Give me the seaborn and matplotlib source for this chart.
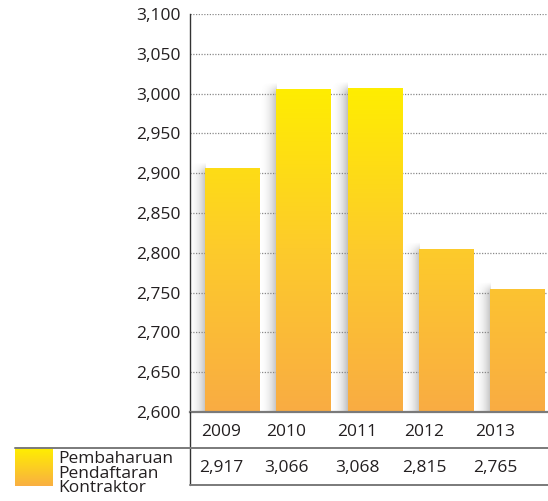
import numpy as np
import pandas as pd
import matplotlib.pyplot as plt
import seaborn as sns
from matplotlib.colors import LinearSegmentedColormap
from matplotlib.lines import Line2D

# data
years = ['2009', '2010', '2011', '2012', '2013']
bar_heights = [2906, 3006, 3007, 2805, 2755]      # bar tops as drawn
table_values = ['2,917', '3,066', '3,068', '2,815', '2,765']  # numbers printed in the table
series_name = 'Pembaharuan\nPendaftaran\nKontraktor'
y_ticks = list(range(2600, 3101, 50))

sns.set_style('white')
plt.rcParams['font.family'] = ['Open Sans', 'DejaVu Sans']

W, H = 548, 501
fig = plt.figure(figsize=(W / 100, H / 100), dpi=100)
ax = fig.add_axes([190 / W, 1 - 412 / H, (548 - 190) / W, (412 - 14) / H])

df = pd.DataFrame({'year': years, 'value': bar_heights})
sns.barplot(data=df, x='year', y='value', ax=ax, width=0.77,
            color='#FCCD21', saturation=1, zorder=3)

ax.set_yticks(y_ticks)
ax.set_yticklabels([f'{v:,}' for v in y_ticks])
ax.set_xticks([])
ax.set_xlabel('')
ax.set_ylabel('')
ax.tick_params(axis='y', length=0, pad=7, labelsize=12.5, labelcolor='#231f20')

ax.yaxis.grid(True, color='#8a8a8a', linestyle=(0, (1, 1.2)), linewidth=0.9, zorder=0)
for s in ['top', 'right']:
    ax.spines[s].set_visible(False)
ax.spines['left'].set_color('#333333')
ax.spines['left'].set_linewidth(1.0)
ax.spines['bottom'].set_color('#7a7a7a')
ax.spines['bottom'].set_linewidth(1.6)
ax.spines['bottom'].set_zorder(5)

# vertical yellow -> orange gradient, in data units
cmap = LinearSegmentedColormap.from_list('yo', ['#F9AC43', '#FDCB2B', '#FFEE00'])
grad = np.linspace(0, 1, 256).reshape(-1, 1)

for p in ax.patches:
    x0, w, top = p.get_x(), p.get_width(), p.get_height()
    # soft grey shadow on the left, fading out above the bar top
    ny = 200
    hx = np.linspace(0, 1, 64) ** 2.2
    yy = np.linspace(2600, top + 8, ny)
    vy = np.clip((top + 8 - yy) / 14, 0, 1)
    shade = np.zeros((ny, 64, 4))
    shade[..., :3] = 0.5
    shade[..., 3] = 0.5 * vy[:, None] * hx[None, :]
    ax.imshow(shade, extent=(x0 - 0.24, x0, 2600, top + 8), origin='lower',
              aspect='auto', interpolation='bilinear', zorder=2)
    im = ax.imshow(grad, extent=(x0, x0 + w, 2600, 3010), origin='lower',
                   cmap=cmap, aspect='auto', zorder=3)
    im.set_clip_path(p)
    p.set_facecolor('none')
    p.set_edgecolor('none')
ax.set_xlim(-0.596, 4.428)
ax.set_ylim(2600, 3100)

# table under the chart (figure pixel coordinates)
def fx(px):
    return px / W

def fy(py):
    return 1 - py / H

fig.add_artist(Line2D([fx(190), fx(190)], [fy(412), fy(485)], color='#333333', lw=1.0))
fig.add_artist(Line2D([fx(15), fx(548)], [fy(448), fy(448)], color='#7a7a7a', lw=1.4))
fig.add_artist(Line2D([fx(190), fx(548)], [fy(485), fy(485)], color='#7a7a7a', lw=1.4))

col_x = [221, 286, 357, 424, 495]
for cx, yr, val in zip(col_x, years, table_values):
    fig.text(fx(cx), fy(432), yr, ha='center', va='center', fontsize=12.5, color='#231f20')
    fig.text(fx(cx), fy(468), val, ha='center', va='center', fontsize=12.5, color='#231f20')

# legend swatch with same gradient
sw = fig.add_axes([15 / W, 1 - 486 / H, 38 / W, 38 / H])
sw.imshow(grad, origin='lower', cmap=LinearSegmentedColormap.from_list(
    'sw', ['#F9AF43', '#FFEF00']), aspect='auto', extent=(0, 1, 0, 1))
sw.set_axis_off()
fig.text(fx(58), fy(451), series_name, ha='left', va='top', fontsize=12.5,
         color='#231f20', linespacing=0.88)

fig.savefig('out.png', dpi=100)
